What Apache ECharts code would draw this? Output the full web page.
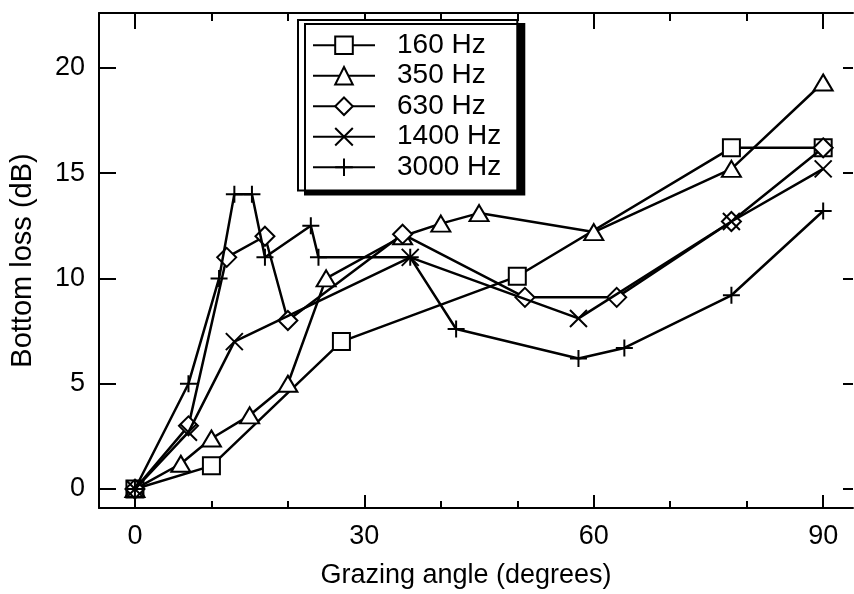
<!doctype html>
<html>
<head>
<meta charset="utf-8">
<title>Bottom loss</title>
<script src="https://cdn.jsdelivr.net/npm/echarts@6/dist/echarts.min.js"></script>
<style>
  html, body { margin: 0; padding: 0; background: #fff; }
  #chart { width: 854px; height: 594px; }
</style>
</head>
<body>
<div id="chart"></div>
<script>
  // values: [grazing angle (deg), bottom loss (dB)]
  var hz160 = [[0, 0], [10, 1.1], [27, 7.0], [50, 10.1], [78, 16.2], [90, 16.2]];
  var hz350 = [[0, 0], [6, 1.2], [10, 2.4], [15, 3.5], [20, 5.0], [25, 10.0], [35, 12.0],
               [40, 12.6], [45, 13.1], [60, 12.2], [78, 15.2], [90, 19.3]];
  var hz630 = [[0, 0], [7, 3.0], [12, 11.0], [17, 12.0], [20, 8.0], [35, 12.1], [51, 9.1],
               [63, 9.1], [78, 12.7], [90, 16.2]];
  var hz1400 = [[0, 0], [7, 2.7], [13, 7.0], [36, 11.0], [58, 8.1], [78, 12.7], [90, 15.2]];
  var hz3000 = [[0, 0], [7, 5.0], [11, 10.0], [13, 14.0], [15.3, 14.0], [17, 11.0], [23, 12.5],
                [24, 11.0], [36, 11.0], [42, 7.6], [58, 6.2], [64, 6.7], [78, 9.2], [90, 13.2]];

  var seriesNames = ['160 Hz', '350 Hz', '630 Hz', '1400 Hz', '3000 Hz'];
  var xMajorTicks = [0, 30, 60, 90];
  var xMinorTicks = [10, 20, 40, 50, 70, 80];
  var yTicks = [0, 5, 10, 15, 20];

  var FONT = '"Liberation Sans", Arial, Helvetica, sans-serif';
  var xMin = -4.7, xMax = 93.9, yMin = -0.9, yMax = 22.6;

  function xAx(opts) {
    var base = {
      type: 'value', min: xMin, max: xMax, splitLine: { show: false },
      axisLine: { show: false, onZero: false },
      axisLabel: { show: false },
      axisTick: { show: false }
    };
    return Object.assign(base, opts);
  }
  function yAx(opts) {
    var base = {
      type: 'value', min: yMin, max: yMax, splitLine: { show: false },
      axisLine: { show: false, onZero: false },
      axisLabel: { show: false },
      axisTick: { show: false }
    };
    return Object.assign(base, opts);
  }
  var tickStyle = { color: '#000', width: 2 };
  var lineStyle = { color: '#000', width: 2 };

  var chart = echarts.init(document.getElementById('chart'));

  var symbols = [
    'rect',
    'triangle',
    'diamond',
    'path://M0,0L10,10M10,0L0,10',
    'path://M5,0L5,10M0,5L10,5'
  ];
  var sizes = [[17, 17], [19, 16], [19, 19], [17, 17], [17, 17]];
  var datas = [hz160, hz350, hz630, hz1400, hz3000];

  var series = datas.map(function (d, i) {
    return {
      name: seriesNames[i],
      type: 'line',
      data: d,
      symbol: symbols[i],
      symbolSize: sizes[i],
      showAllSymbol: true,
      animation: false,
      lineStyle: { color: '#000', width: 2.5 },
      itemStyle: { color: '#fff', borderColor: '#000', borderWidth: 2 },
      z: 2 + i
    };
  });

  chart.setOption({
    backgroundColor: '#fff',
    animation: false,
    textStyle: { fontFamily: FONT },
    grid: { left: 99, right: 1, top: 13, bottom: 86, outerBoundsMode: 'none' },
    legend: {
      orient: 'vertical',
      left: 298, top: 20,
      data: seriesNames,
      itemWidth: 62, itemHeight: 22,
      itemGap: 0,
      padding: [10, 16, 8, 14],
      backgroundColor: '#fff',
      borderColor: '#000', borderWidth: 2,
      shadowColor: '#000', shadowBlur: 0, shadowOffsetX: 7, shadowOffsetY: 4,
      textStyle: { fontSize: 28, lineHeight: 30.5, color: '#000', fontFamily: FONT, padding: [0, 0, 0, 17] },
      selectedMode: false
    },
    xAxis: [
      xAx({
        position: 'bottom',
        name: 'Grazing angle (degrees)', nameLocation: 'middle', nameGap: 54,
        nameTextStyle: { fontSize: 27, color: '#000', fontFamily: FONT, padding: [0, 20, 0, 0] },
        axisLine: { show: true, onZero: false, lineStyle: lineStyle },
        axisTick: { show: true, inside: true, length: 13, lineStyle: tickStyle, customValues: xMajorTicks },
        axisLabel: { show: true, fontSize: 27, color: '#000', margin: 15, fontFamily: FONT, customValues: xMajorTicks }
      }),
      xAx({
        position: 'bottom',
        axisTick: { show: true, inside: true, length: 7, lineStyle: tickStyle, customValues: xMinorTicks }
      }),
      xAx({
        position: 'top',
        axisLine: { show: true, onZero: false, lineStyle: lineStyle },
        axisTick: { show: true, inside: true, length: 16, lineStyle: tickStyle, customValues: xMajorTicks }
      }),
      xAx({
        position: 'top',
        axisTick: { show: true, inside: true, length: 8, lineStyle: tickStyle, customValues: xMinorTicks }
      })
    ],
    yAxis: [
      yAx({
        position: 'left',
        name: 'Bottom loss (dB)', nameLocation: 'middle', nameGap: 62,
        nameTextStyle: { fontSize: 29, color: '#000', fontFamily: FONT },
        axisLine: { show: true, onZero: false, lineStyle: lineStyle },
        axisTick: { show: true, inside: true, length: 17, lineStyle: tickStyle, customValues: yTicks },
        axisLabel: { show: true, fontSize: 27, color: '#000', margin: 14, fontFamily: FONT, customValues: yTicks }
      }),
      yAx({
        position: 'right',
        axisTick: { show: true, inside: true, length: 10, lineStyle: tickStyle, customValues: yTicks }
      })
    ],
    series: series
  });
</script>
</body>
</html>
